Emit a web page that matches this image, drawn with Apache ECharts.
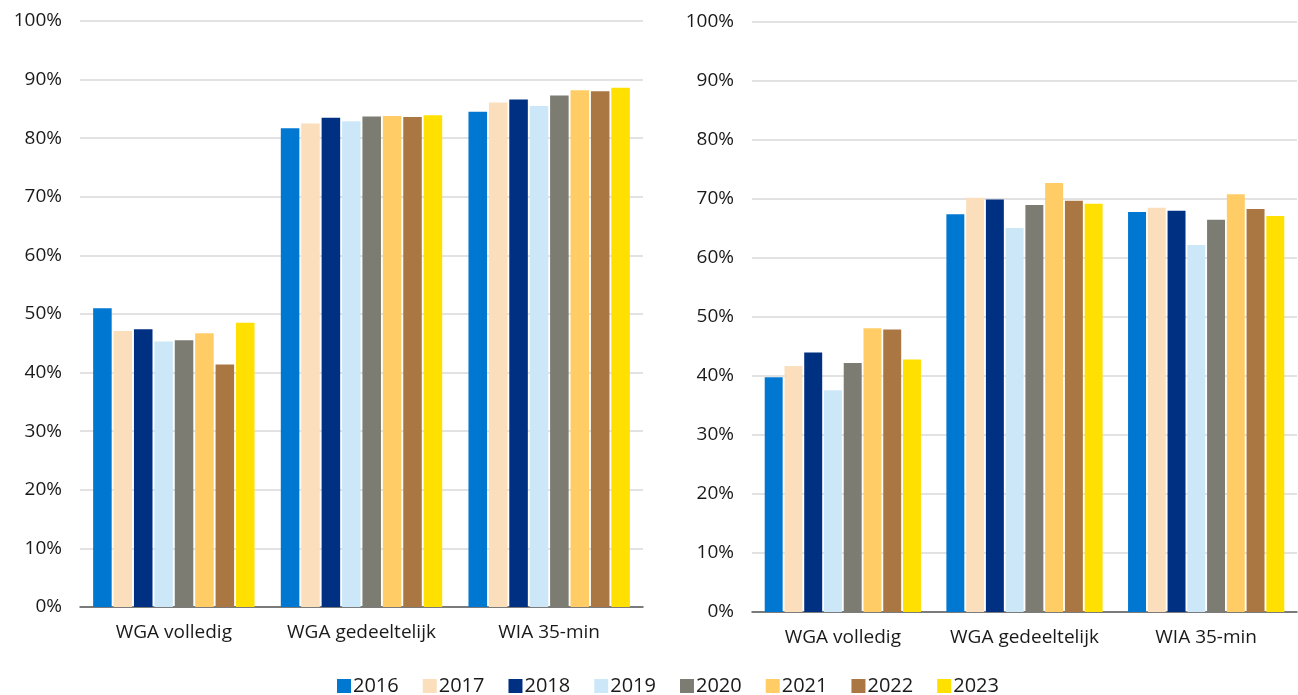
<!DOCTYPE html>
<html>
<head>
<meta charset="utf-8">
<script src="https://cdn.jsdelivr.net/npm/echarts@6/dist/echarts.min.js"></script>
<style>
    html, body { margin: 0; padding: 0; background: #fff; }
    #chart { width: 1298px; height: 695px; }
</style>
</head>
<body>
<div id="chart"></div>
<script>
    const categories = ['WGA volledig', 'WGA gedeeltelijk', 'WIA 35-min'];
    const years = ['2016', '2017', '2018', '2019', '2020', '2021', '2022', '2023'];
    const yTicks = [0, 10, 20, 30, 40, 50, 60, 70, 80, 90, 100];

    // linker grafiek, per jaar: [WGA volledig, WGA gedeeltelijk, WIA 35-min]
    const left2016 = [51.0, 81.7, 84.5];
    const left2017 = [47.1, 82.5, 86.1];
    const left2018 = [47.4, 83.5, 86.6];
    const left2019 = [45.3, 82.9, 85.5];
    const left2020 = [45.5, 83.7, 87.3];
    const left2021 = [46.7, 83.8, 88.2];
    const left2022 = [41.4, 83.6, 88.0];
    const left2023 = [48.5, 83.9, 88.6];

    // rechter grafiek
    const right2016 = [39.8, 67.4, 67.8];
    const right2017 = [41.7, 70.2, 68.5];
    const right2018 = [44.0, 69.9, 68.0];
    const right2019 = [37.6, 65.1, 62.2];
    const right2020 = [42.2, 69.0, 66.5];
    const right2021 = [48.1, 72.7, 70.8];
    const right2022 = [47.9, 69.7, 68.3];
    const right2023 = [42.8, 69.2, 67.1];

    const leftData = [left2016, left2017, left2018, left2019, left2020, left2021, left2022, left2023];
    const rightData = [right2016, right2017, right2018, right2019, right2020, right2021, right2022, right2023];

    const colors = ['#0078D2', '#FBDFBC', '#003082', '#CCE8F8', '#7D7C72', '#FFCC66', '#AA7642', '#FFE000'];
    const font = 'Open Sans';

    function xAxis(idx) {
        return {
            type: 'category',
            gridIndex: idx,
            data: categories,
            axisTick: { show: false },
            axisLine: { lineStyle: { color: '#595959', width: 1.5 } },
            axisLabel: { interval: 0, color: '#1a1a1a', fontSize: 19, fontWeight: 500, fontFamily: font, margin: 16 }
        };
    }

    function yAxis(idx) {
        return {
            type: 'value',
            gridIndex: idx,
            min: yTicks[0],
            max: yTicks[yTicks.length - 1],
            interval: 10,
            axisLine: { show: false },
            axisTick: { show: false },
            splitLine: { lineStyle: { color: '#D9D9D9', width: 1.5 } },
            axisLabel: { color: '#1a1a1a', fontSize: 19, fontWeight: 500, fontFamily: font, margin: 18, formatter: '{value}%' }
        };
    }

    const series = [];
    years.forEach(function (y, i) {
        series.push({
            name: y,
            type: 'bar',
            xAxisIndex: 0,
            yAxisIndex: 0,
            data: leftData[i],
            barGap: '10%',
            barCategoryGap: '14%',
            itemStyle: { color: colors[i] }
        });
        series.push({
            name: y,
            type: 'bar',
            xAxisIndex: 1,
            yAxisIndex: 1,
            data: rightData[i],
            barGap: '10%',
            barCategoryGap: '14%',
            itemStyle: { color: colors[i] }
        });
    });

    const chart = echarts.init(document.getElementById('chart'));
    chart.setOption({
        animation: false,
        color: colors,
        textStyle: { fontFamily: font },
        legend: {
            data: years,
            top: 671,
            left: 332,
            itemWidth: 14,
            itemHeight: 14,
            itemGap: 24,
            icon: 'rect',
            textStyle: { fontSize: 20, fontWeight: 500, color: '#1a1a1a', fontFamily: font, padding: [0, 0, 0, -3] }
        },
        grid: [
            { left: 80, right: 655, top: 21, bottom: 88, containLabel: false },
            { left: 752, right: 1, top: 22, bottom: 83, containLabel: false }
        ],
        xAxis: [xAxis(0), xAxis(1)],
        yAxis: [yAxis(0), yAxis(1)],
        series: series
    });
</script>
</body>
</html>
